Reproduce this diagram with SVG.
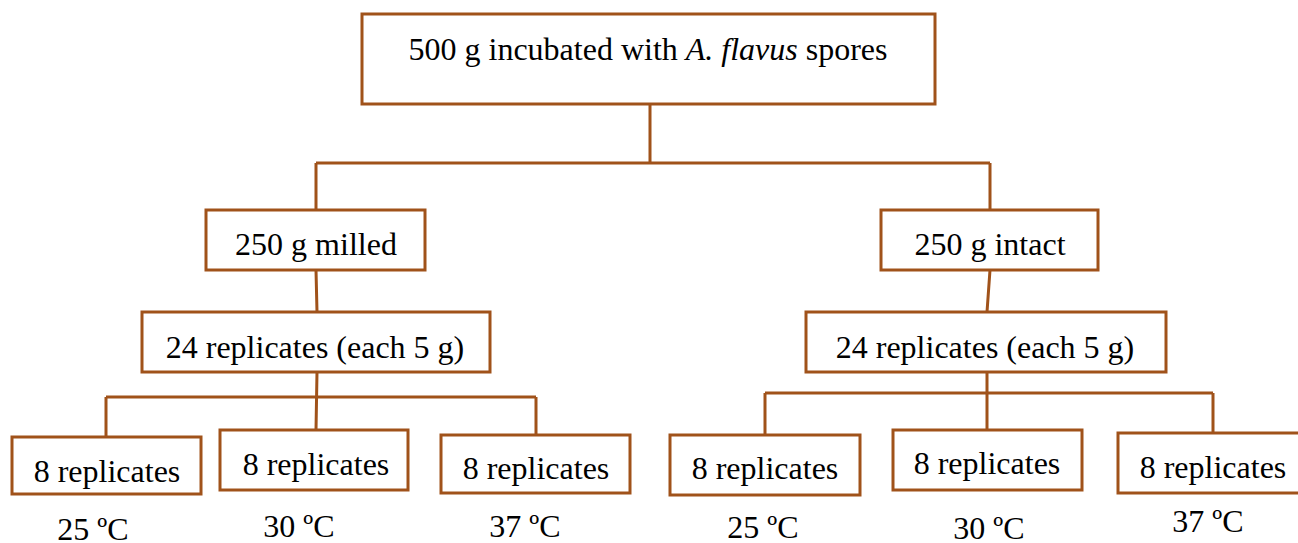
<svg xmlns="http://www.w3.org/2000/svg" width="1298" height="543" viewBox="0 0 1298 543">
<style>
.b{fill:#fff;stroke:#A0521A;stroke-width:3}
.c{fill:none;stroke:#A0521A;stroke-width:3}
text{font-family:"Liberation Serif","Times New Roman",serif;font-size:32px;fill:#000;text-anchor:middle}
</style>
<rect width="1298" height="543" fill="#fff"/>
<g id="connectors">
<path class="c" d="M650,104 L650,163 M316,163 L990,163 M316,163 L316,210 M990,163 L990,210"/>
<path class="c" d="M316,270 L317,312 M990,270 L987,312"/>
<path class="c" d="M317,372 L316,430 M106,397 L536,397 M106,397 L106,437 M536,397 L536,435"/>
<path class="c" d="M987,372 L987,430 M765,393 L1213,393 M765,393 L765,435 M1213,393 L1213,433"/>
</g>
<g id="root"><rect class="b" x="362" y="14" width="573" height="90"/><text x="648" y="60">500 g incubated with <tspan font-style="italic">A. flavus</tspan> spores</text></g>
<g id="milled"><rect class="b" x="206" y="210" width="219" height="60"/><text x="316" y="255">250 g milled</text></g>
<g id="intact"><rect class="b" x="881" y="210" width="217" height="60"/><text x="990" y="255">250 g intact</text></g>
<g id="rep24L"><rect class="b" x="142" y="312" width="348" height="60"/><text x="315" y="358">24 replicates (each 5 g)</text></g>
<g id="rep24R"><rect class="b" x="806" y="312" width="360" height="60"/><text x="985" y="358">24 replicates (each 5 g)</text></g>
<g id="L25"><rect class="b" x="12" y="437" width="189" height="57"/><text x="107" y="482">8 replicates</text><text x="93" y="540">25 ºC</text></g>
<g id="L30"><rect class="b" x="220" y="430" width="188" height="60"/><text x="316" y="475">8 replicates</text><text x="299" y="537">30 ºC</text></g>
<g id="L37"><rect class="b" x="441" y="435" width="189" height="58"/><text x="536" y="479">8 replicates</text><text x="525" y="537">37 ºC</text></g>
<g id="R25"><rect class="b" x="670" y="435" width="190" height="60"/><text x="765" y="479">8 replicates</text><text x="763" y="538">25 ºC</text></g>
<g id="R30"><rect class="b" x="893" y="430" width="189" height="60"/><text x="987" y="474">8 replicates</text><text x="989" y="539">30 ºC</text></g>
<g id="R37"><rect class="b" x="1118" y="433" width="182" height="60"/><text x="1213" y="478">8 replicates</text><text x="1208" y="532">37 ºC</text></g>
</svg>
